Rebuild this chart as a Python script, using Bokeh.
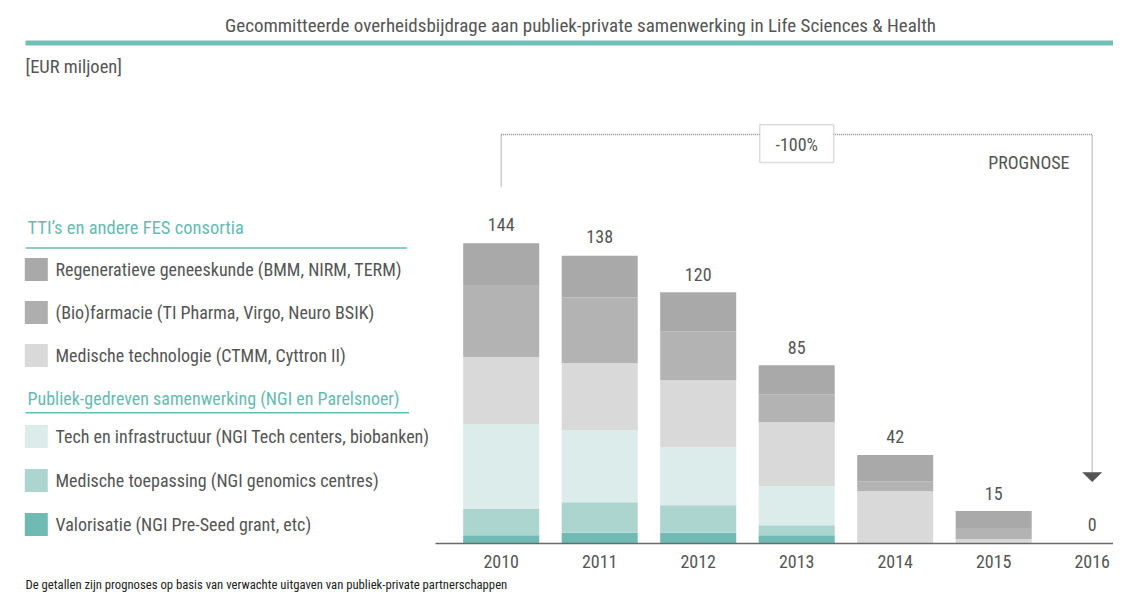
from bokeh.plotting import figure
from bokeh.models import Range1d, LinearAxis, FixedTicker, Label, BoxAnnotation, ColumnDataSource, Title
from bokeh.core.properties import value
from bokeh.embed import file_html
from bokeh.resources import INLINE

# ---------------- data ----------------
years = ["2010", "2011", "2012", "2013", "2014", "2015", "2016"]
valorisatie = [4.0, 5.1, 5.1, 4.0, 0, 0, 0]
toepassing = [12.5, 14.7, 13.3, 4.8, 0, 0, 0]
tech_infra = [40.8, 34.5, 27.8, 18.7, 0, 0, 0]
medtech = [32.1, 32.1, 32.1, 30.7, 25.1, 2.1, 0]
biofarma = [34.5, 31.6, 23.5, 13.4, 4.8, 5.3, 0]
regen = [20.1, 20.0, 18.7, 13.9, 12.5, 8.2, 0]
totals = [144, 138, 120, 85, 42, 15, 0]
change_label = "-100%"

series = ["valorisatie", "toepassing", "tech_infra", "medtech", "biofarma", "regen"]
colors = ["#6fbbb3", "#acd5d0", "#dcecea", "#d9d9d9", "#b3b3b3", "#a9a9a9"]

legend_groups = [
    ("TTI\u2019s en andere FES consortia", [
        ("Regeneratieve geneeskunde (BMM, NIRM, TERM)", "#a9a9a9"),
        ("(Bio)farmacie (TI Pharma, Virgo, Neuro BSIK)", "#aeaeae"),
        ("Medische technologie (CTMM, Cyttron II)", "#d9d9d9"),
    ]),
    ("Publiek-gedreven samenwerking (NGI en Parelsnoer)", [
        ("Tech en infrastructuur (NGI Tech centers, biobanken)", "#dcecea"),
        ("Medische toepassing (NGI genomics centres)", "#acd5d0"),
        ("Valorisatie (NGI Pre-Seed grant, etc)", "#6fbbb3"),
    ]),
]

title_text = "Gecommitteerde overheidsbijdrage aan publiek-private samenwerking in Life Sciences & Health"
unit_text = "[EUR miljoen]"
prognose_text = "PROGNOSE"
footnote = "De getallen zijn prognoses op basis van verwachte uitgaven van publiek-private partnerschappen"

# ---------------- geometry ----------------
FONT = "Roboto Condensed"
TEXT = "#555555"
TEAL = "#66bbb1"
W, H = 1113, 597
BOTTOM_BORDER = 54
PX_PER_YEAR = 98.5
PX_PER_UNIT = 2.0854
FIRST_X = 500.7      # picture x of first category centre
BASE_Y = 543.0       # picture y of baseline (frame bottom)


def dx(X):
    return (X - FIRST_X) / PX_PER_YEAR


def dy(Y):
    return (BASE_Y - Y) / PX_PER_UNIT


p = figure(width=W, height=H, output_backend="svg", toolbar_location=None,
           x_range=Range1d(dx(0), dx(W)),
           y_range=Range1d(0, dy(0)),
           x_axis_location=None, y_axis_location=None,
           min_border_left=0, min_border_right=0,
           min_border_top=0, min_border_bottom=BOTTOM_BORDER)
p.outline_line_color = None
p.grid.visible = False
p.background_fill_color = "white"
p.border_fill_color = "white"

idx = list(range(len(years)))
ax = LinearAxis(ticker=FixedTicker(ticks=idx),
                major_label_overrides={i: y for i, y in zip(idx, years)},
                bounds=(dx(435), dx(W) + 1))
ax.axis_line_color = "#6a6a6a"
ax.axis_line_width = 1.4
ax.major_tick_line_color = None
ax.minor_tick_line_color = None
ax.major_tick_out = 0
ax.major_tick_in = 0
ax.major_label_standoff = 11
ax.major_label_text_font = FONT
ax.major_label_text_font_size = "18px"
ax.major_label_text_color = TEXT
p.add_layout(ax, "below")

p.add_layout(Title(text=footnote, align="left", offset=25, standoff=9,
                   text_font=FONT, text_font_size="12.7px", text_font_style="normal",
                   text_color="#222222"), "below")

source = ColumnDataSource(dict(x=idx, valorisatie=valorisatie, toepassing=toepassing,
                               tech_infra=tech_infra, medtech=medtech,
                               biofarma=biofarma, regen=regen))
p.vbar_stack(series, x="x", width=0.772, fill_color=colors, line_color=None, source=source)

p.text(x=idx, y=totals, text=[str(t) for t in totals], text_align="center",
       text_baseline="middle", y_offset=-19, text_font=value(FONT),
       text_font_size="18px", text_color=TEXT)

# bracket with arrow
last = len(years) - 1
mid = last / 2
bracket_y = dy(134)
p.multi_line(xs=[[0, 0, last, last]],
             ys=[[dy(186), bracket_y, bracket_y, dy(471.7)]],
             line_color="#8a8a8a", line_width=1.3, line_dash="1 1")
hw = 10 / PX_PER_YEAR
p.patch(x=[last - hw, last + hw, last], y=[dy(471.7), dy(471.7), dy(481.5)],
        fill_color="#555555", line_color=None)
bw = 37 / PX_PER_YEAR
p.add_layout(BoxAnnotation(left=mid - bw, right=mid + bw, top=dy(124.3), bottom=dy(162),
                           fill_color="white", fill_alpha=1.0,
                           line_color="#8c8c8c", line_width=1.5))
p.add_layout(Label(x=mid, y=dy(143.5), text=change_label, text_align="center",
                   text_baseline="middle", text_font=FONT, text_font_size="18px",
                   text_color=TEXT))
p.add_layout(Label(x=dx(1069), y=dy(161.7), text=prognose_text, text_align="right",
                   text_baseline="middle", text_font=FONT, text_font_size="18px",
                   text_color=TEXT))

# title and teal rule
p.add_layout(Label(x=dx(580), y=dy(24.5), text=title_text, text_align="center",
                   text_baseline="middle", text_font=FONT, text_font_size="19px",
                   text_color=TEXT))
p.add_layout(BoxAnnotation(left=dx(25), right=dx(W + 5), top=dy(40), bottom=dy(45),
                           fill_color="#72bfb6", fill_alpha=1.0, line_color=None))
p.add_layout(Label(x=dx(25), y=dy(66), text=unit_text, text_align="left",
                   text_baseline="middle", text_font=FONT, text_font_size="18.5px",
                   text_color=TEXT))

# custom legend
heading_y = [227, 398]
heading_size = ["18.5px", "18px"]
rule_y = [247.5, 412.3]
rule_right = [406.5, 408.5]
item_y = [[269, 312, 355], [436, 480, 524]]
for g, (heading, items) in enumerate(legend_groups):
    p.add_layout(Label(x=dx(27), y=dy(heading_y[g]), text=heading, text_align="left",
                       text_baseline="middle", text_font=FONT, text_font_size=heading_size[g],
                       text_color=TEAL))
    p.add_layout(BoxAnnotation(left=dx(25), right=dx(rule_right[g]),
                               top=dy(rule_y[g] - 0.7), bottom=dy(rule_y[g] + 0.7),
                               fill_color=TEAL, fill_alpha=1.0, line_color=None))
    for (lab, col), yc in zip(items, item_y[g]):
        p.add_layout(BoxAnnotation(left=dx(24.3), right=dx(47.3),
                                   top=dy(yc - 11.5), bottom=dy(yc + 11.5),
                                   fill_color=col, fill_alpha=1.0, line_color=None))
        p.add_layout(Label(x=dx(55), y=dy(yc), text=lab, text_align="left",
                           text_baseline="middle", text_font=FONT, text_font_size="18px",
                           text_color=TEXT))

open("out.html", "w").write(file_html(p, INLINE))
